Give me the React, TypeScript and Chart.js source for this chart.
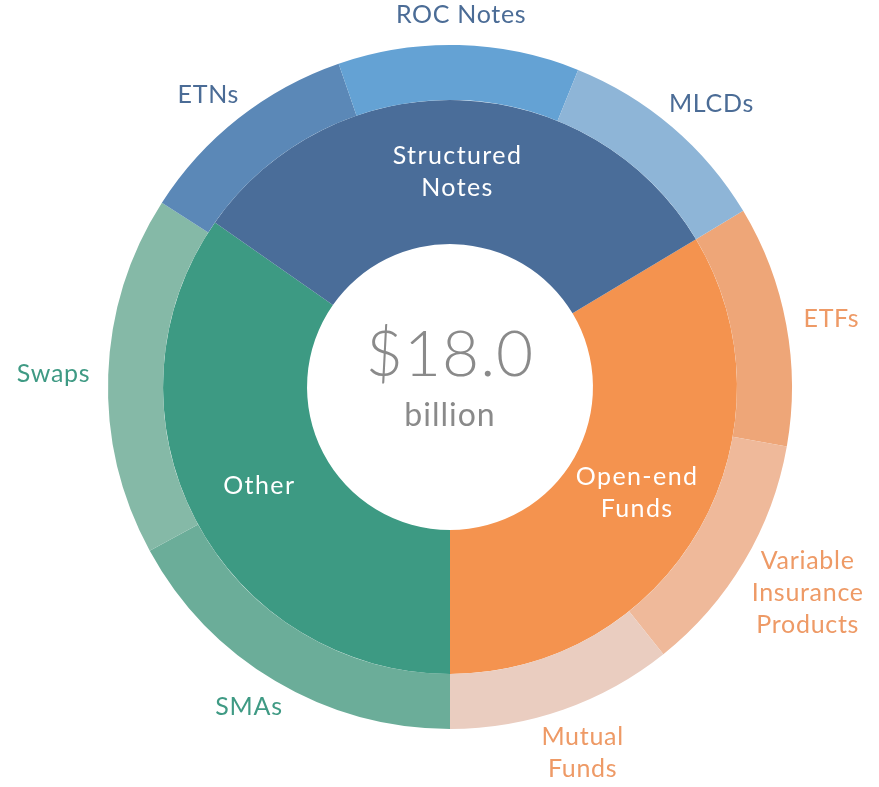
import React, { useEffect, useRef } from "react";
import { Chart, registerables } from "chart.js";

Chart.register(...registerables);

// Inner ring (groups), billions of dollars
const groupLabels = [["Open-end", "Funds"], ["Other"], ["Structured", "Notes"]];
const groupValues = [6.05, 6.25, 5.7];
const groupColors = ["#f4934f", "#3d9a83", "#4a6d99"];

// Outer ring (products), billions of dollars
const productLabels = [
  ["ETFs"],
  ["Variable", "Insurance", "Products"],
  ["Mutual", "Funds"],
  ["SMAs"],
  ["Swaps"],
  ["ETNs"],
  ["ROC Notes"],
  ["MLCDs"],
];
const productValues = [2.05, 2.07, 1.93, 3.07, 3.06, 1.92, 2.05, 1.85];
const productColors = ["#eea678", "#efb99a", "#eacdc0", "#6bad99", "#85b9a7", "#5b88b7", "#64a2d4", "#8eb5d7"];
const productTextColors = ["#ee9a66", "#ee9a66", "#ee9a66", "#3f9a84", "#3f9a84", "#4b6c96", "#4b6c96", "#4b6c96"];

const FONT = "Lato, 'Open Sans', sans-serif";

const labelPlugin = {
  id: "ringLabels",
  afterDatasetsDraw(chart: any) {
    const ctx = chart.ctx as CanvasRenderingContext2D;
    ctx.save();
    ctx.textAlign = "center";
    ctx.textBaseline = "middle";
    const lineH = 32;

    // outer labels
    const outerMeta = chart.getDatasetMeta(0);
    ctx.font = `400 25px ${FONT}`;
    (ctx as any).letterSpacing = "0.7px";
    outerMeta.data.forEach((arc: any, i: number) => {
      const p = arc.getProps(["x", "y", "startAngle", "endAngle", "outerRadius"], true);
      const mid = (p.startAngle + p.endAngle) / 2;
      const ux = Math.cos(mid);
      const uy = Math.sin(mid);
      const lines = productLabels[i];
      const w = Math.max(...lines.map((l) => ctx.measureText(l).width));
      const h = lines.length * lineH;
      const hText = h - 8;
      const r = p.outerRadius + 18;
      const cx = p.x + ux * r + ux * (w / 2);
      const cy = p.y + uy * r + uy * (hText / 2);
      ctx.fillStyle = productTextColors[i];
      lines.forEach((l, k) => {
        ctx.fillText(l, cx, cy - h / 2 + lineH / 2 + k * lineH);
      });
    });

    // inner labels
    const innerMeta = chart.getDatasetMeta(1);
    ctx.fillStyle = "#ffffff";
    ctx.font = `400 25px ${FONT}`;
    (ctx as any).letterSpacing = "1.4px";
    innerMeta.data.forEach((arc: any, i: number) => {
      const pos = arc.tooltipPosition(true);
      const lines = groupLabels[i];
      const h = lines.length * lineH;
      lines.forEach((l, k) => {
        ctx.fillText(l, pos.x, pos.y - h / 2 + lineH / 2 + k * lineH);
      });
    });

    // center total
    const first = innerMeta.data[0].getProps(["x", "y"], true);
    const total = groupValues.reduce((a, b) => a + b, 0);
    ctx.fillStyle = "#8a8a8a";
    (ctx as any).letterSpacing = "1px";
    ctx.font = `300 64px ${FONT}`;
    ctx.fillText(`$${total.toFixed(1)}`, first.x, first.y - 32);
    ctx.font = `400 32px ${FONT}`;
    ctx.fillText("billion", first.x, first.y + 29);
    ctx.restore();
  },
};

export default function App() {
  const ref = useRef<HTMLCanvasElement | null>(null);
  useEffect(() => {
    if (!ref.current) return;
    const chart = new Chart(ref.current, {
      type: "doughnut",
      data: {
        labels: productLabels.map((l) => l.join(" ")),
        datasets: [
          {
            data: productValues,
            backgroundColor: productColors,
            borderWidth: 0,
            weight: 55,
            rotation: 59,
          } as any,
          {
            data: groupValues,
            backgroundColor: groupColors,
            borderWidth: 0,
            weight: 144,
            rotation: 59,
          } as any,
        ],
      },
      options: {
        responsive: false,
        animation: false,
        cutout: "41.8%",
        rotation: 59,
        layout: { padding: { top: 45, bottom: 58, left: 108, right: 87 } },
        plugins: { legend: { display: false }, tooltip: { enabled: false } },
        events: [],
      } as any,
      plugins: [labelPlugin],
    });
    return () => chart.destroy();
  }, []);
  return (
    <div style={{ position: "absolute", left: 0, top: 0, width: 879, height: 787, background: "#fff" }}>
      <canvas ref={ref} width={879} height={787} style={{ display: "block" }} />
    </div>
  );
}
